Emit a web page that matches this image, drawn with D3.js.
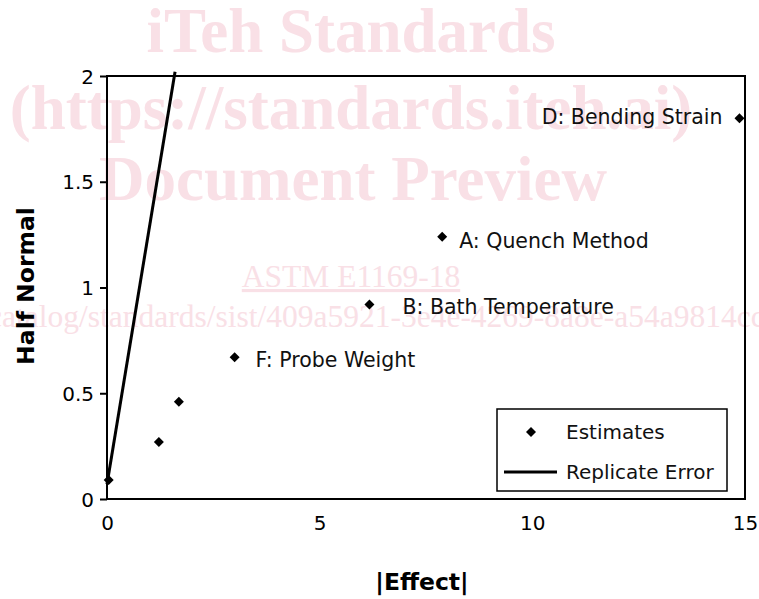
<!DOCTYPE html>
<html>
<head>
<meta charset="utf-8">
<script src="https://cdn.jsdelivr.net/npm/d3@7/dist/d3.min.js"></script>
<style>
  html, body { margin: 0; padding: 0; background: #fff; }
  svg { display: block; }
</style>
</head>
<body>
<svg id="chart" width="759" height="599"></svg>
<script>
// ---- data ----
const effectLabels = ["", "", "", "F: Probe Weight", "B: Bath Temperature", "A: Quench Method", "D: Bending Strain"];
const effects     = [0.04, 1.22, 1.69, 3.0, 6.17, 7.88, 14.87];
const halfNormal  = [0.09, 0.27, 0.46, 0.67, 0.92, 1.24, 1.80];
const replicateX  = [0, 1.6];
const replicateY  = [0.07, 2.02];
const xTicks = [0, 5, 10, 15];
const yTicks = [0, 0.5, 1, 1.5, 2];
const legendLabels = ["Estimates", "Replicate Error"];
const watermarkLines = ["iTeh Standards", "(https://standards.iteh.ai)", "Document Preview"];
const watermarkSub = "ASTM E1169-18";
const watermarkUrl = "catalog/standards/sist/409a5921-3e4e-4269-8a8e-a54a9814cc";

// ---- layout ----
const svg = d3.select("#chart");
const mLeft = 107, mRight = 745, mTop = 76, mBottom = 499;
const x = d3.scaleLinear().domain([0, 15]).range([mLeft, mRight]);
const y = d3.scaleLinear().domain([0, 2]).range([mBottom, mTop]);
const FONT = "'DejaVu Sans', Verdana, sans-serif";
const WM = "#f9e0e6";
const WMFONT = "'Liberation Serif', 'Times New Roman', serif";

// ---- watermark (behind) ----
const wm = svg.append("g").attr("fill", WM).attr("font-family", WMFONT).attr("text-anchor", "middle");
const wmPos = [[351, 52], [351, 129], [353, 200]];
watermarkLines.forEach((t, i) => {
  wm.append("text").attr("x", wmPos[i][0]).attr("y", wmPos[i][1])
    .attr("font-size", 63).attr("font-weight", "bold").text(t);
});
wm.append("text").attr("x", 351).attr("y", 287).attr("font-size", 31.5)
  .attr("text-decoration", "underline").text(watermarkSub);
wm.append("text").attr("x", -12).attr("y", 327).attr("font-size", 31.5)
  .attr("text-anchor", "start").text(watermarkUrl);

// ---- plot frame ----
svg.append("rect").attr("x", mLeft).attr("y", mTop)
  .attr("width", mRight - mLeft).attr("height", mBottom - mTop)
  .attr("fill", "none").attr("stroke", "#000").attr("stroke-width", 2);

// y axis
const yAxis = d3.axisLeft(y).tickValues(yTicks).tickSize(7).tickPadding(6)
  .tickFormat(d => d3.format("")(d));
const gy = svg.append("g").attr("transform", `translate(${mLeft},0)`).call(yAxis);
gy.select(".domain").remove();
gy.selectAll(".tick line").attr("stroke", "#000").attr("stroke-width", 2);
gy.selectAll(".tick text").attr("font-family", FONT).attr("font-size", 20).attr("fill", "#000")
  .attr("dy", "0.36em");

// x axis
const xAxis = d3.axisBottom(x).tickValues(xTicks).tickSize(0).tickPadding(17);
const gx = svg.append("g").attr("transform", `translate(0,${mBottom})`).call(xAxis);
gx.select(".domain").remove();
gx.selectAll(".tick text").attr("font-family", FONT).attr("font-size", 20).attr("fill", "#000");

// axis titles
svg.append("text").attr("x", 422).attr("y", 590).attr("text-anchor", "middle")
  .attr("font-family", FONT).attr("font-weight", "bold").attr("font-size", 23.5).text("|Effect|");
svg.append("text").attr("transform", "translate(34,286) rotate(-90)").attr("text-anchor", "middle")
  .attr("font-family", FONT).attr("font-weight", "bold").attr("font-size", 23.5).text("Half Normal");

// replicate error line
const line = d3.line().x(d => x(d[0])).y(d => y(d[1]));
svg.append("path").datum(replicateX.map((v, i) => [v, replicateY[i]]))
  .attr("d", line).attr("stroke", "#000").attr("stroke-width", 3).attr("fill", "none");

// diamonds
const diamond = (cx, cy, r) => `M${cx},${cy - r}L${cx + r},${cy}L${cx},${cy + r}L${cx - r},${cy}Z`;
const pts = effects.map((v, i) => ({ x: v, y: halfNormal[i], label: effectLabels[i], i }));
svg.append("g").selectAll("path").data(pts).join("path")
  .attr("d", d => diamond(x(d.x), y(d.y), 5)).attr("fill", "#000");

// point labels (offsets per label)
const labelDx = [0, 0, 0, 21, 33, 17, -17];
const labelDy = [0, 0, 0, 10, 10, 11, 6];
svg.append("g").selectAll("text").data(pts.filter(d => d.label)).join("text")
  .attr("x", d => x(d.x) + labelDx[d.i])
  .attr("y", d => y(d.y) + labelDy[d.i])
  .attr("text-anchor", d => labelDx[d.i] < 0 ? "end" : "start")
  .attr("font-family", FONT).attr("font-size", 20.5).attr("fill", "#111")
  .text(d => d.label);

// legend
const lg = svg.append("g");
lg.append("rect").attr("x", 497).attr("y", 409).attr("width", 230).attr("height", 82)
  .attr("fill", "#fff").attr("stroke", "#000").attr("stroke-width", 1.5);
lg.append("path").attr("d", diamond(531, 432, 5)).attr("fill", "#000");
lg.append("line").attr("x1", 504).attr("x2", 557).attr("y1", 472).attr("y2", 472)
  .attr("stroke", "#000").attr("stroke-width", 3);
legendLabels.forEach((t, i) => {
  lg.append("text").attr("x", 566).attr("y", 439 + i * 40)
    .attr("font-family", FONT).attr("font-size", 20).attr("fill", "#111").text(t);
});
</script>
</body>
</html>
